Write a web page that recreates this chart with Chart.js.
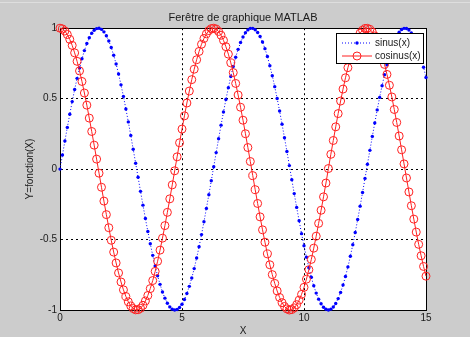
<!DOCTYPE html>
<html>
<head>
<meta charset="utf-8">
<script src="https://cdn.jsdelivr.net/npm/chart.js@4/dist/chart.umd.min.js"></script>
<style>
  html, body { margin: 0; padding: 0; background: #cccccc; }
  canvas { display: block; }
</style>
</head>
<body>
<canvas id="fig" width="470" height="337"></canvas>
<script>
const xs = [
  0, 0.1, 0.2, 0.3, 0.4, 0.5, 0.6, 0.7, 0.8, 0.9,
  1, 1.1, 1.2, 1.3, 1.4, 1.5, 1.6, 1.7, 1.8, 1.9,
  2, 2.1, 2.2, 2.3, 2.4, 2.5, 2.6, 2.7, 2.8, 2.9,
  3, 3.1, 3.2, 3.3, 3.4, 3.5, 3.6, 3.7, 3.8, 3.9,
  4, 4.1, 4.2, 4.3, 4.4, 4.5, 4.6, 4.7, 4.8, 4.9,
  5, 5.1, 5.2, 5.3, 5.4, 5.5, 5.6, 5.7, 5.8, 5.9,
  6, 6.1, 6.2, 6.3, 6.4, 6.5, 6.6, 6.7, 6.8, 6.9,
  7, 7.1, 7.2, 7.3, 7.4, 7.5, 7.6, 7.7, 7.8, 7.9,
  8, 8.1, 8.2, 8.3, 8.4, 8.5, 8.6, 8.7, 8.8, 8.9,
  9, 9.1, 9.2, 9.3, 9.4, 9.5, 9.6, 9.7, 9.8, 9.9,
  10, 10.1, 10.2, 10.3, 10.4, 10.5, 10.6, 10.7, 10.8, 10.9,
  11, 11.1, 11.2, 11.3, 11.4, 11.5, 11.6, 11.7, 11.8, 11.9,
  12, 12.1, 12.2, 12.3, 12.4, 12.5, 12.6, 12.7, 12.8, 12.9,
  13, 13.1, 13.2, 13.3, 13.4, 13.5, 13.6, 13.7, 13.8, 13.9,
  14, 14.1, 14.2, 14.3, 14.4, 14.5, 14.6, 14.7, 14.8, 14.9,
  15
];

const sinus = [
  0, 0.100, 0.199, 0.296, 0.389, 0.479, 0.565, 0.644, 0.717, 0.783,
  0.841, 0.891, 0.932, 0.964, 0.985, 0.997, 1.000, 0.992, 0.974, 0.946,
  0.909, 0.863, 0.808, 0.746, 0.675, 0.598, 0.516, 0.427, 0.335, 0.239,
  0.141, 0.042, -0.058, -0.158, -0.256, -0.351, -0.443, -0.530, -0.612, -0.688,
  -0.757, -0.818, -0.872, -0.916, -0.952, -0.978, -0.994, -1.000, -0.996, -0.982,
  -0.959, -0.926, -0.883, -0.832, -0.773, -0.706, -0.631, -0.551, -0.465, -0.374,
  -0.279, -0.182, -0.083, 0.017, 0.117, 0.215, 0.312, 0.405, 0.494, 0.578,
  0.657, 0.729, 0.794, 0.850, 0.899, 0.938, 0.968, 0.988, 0.999, 0.999,
  0.989, 0.970, 0.941, 0.902, 0.855, 0.799, 0.734, 0.663, 0.585, 0.501,
  0.412, 0.319, 0.223, 0.125, 0.025, -0.075, -0.174, -0.272, -0.367, -0.458,
  -0.544, -0.625, -0.700, -0.768, -0.828, -0.880, -0.923, -0.956, -0.981, -0.995,
  -1.000, -0.994, -0.979, -0.954, -0.919, -0.875, -0.823, -0.762, -0.694, -0.618,
  -0.537, -0.450, -0.358, -0.263, -0.166, -0.066, 0.034, 0.133, 0.232, 0.327,
  0.420, 0.509, 0.592, 0.670, 0.740, 0.804, 0.859, 0.906, 0.944, 0.972,
  0.991, 0.999, 0.998, 0.987, 0.966, 0.935, 0.895, 0.846, 0.788, 0.723,
  0.650
];

const cosinus = [
  1.000, 0.995, 0.980, 0.955, 0.921, 0.878, 0.825, 0.765, 0.697, 0.622,
  0.540, 0.454, 0.362, 0.267, 0.170, 0.071, -0.029, -0.129, -0.227, -0.323,
  -0.416, -0.505, -0.589, -0.666, -0.737, -0.801, -0.857, -0.904, -0.942, -0.971,
  -0.990, -0.999, -0.998, -0.988, -0.967, -0.936, -0.897, -0.848, -0.791, -0.726,
  -0.654, -0.575, -0.490, -0.401, -0.307, -0.211, -0.112, -0.012, 0.087, 0.187,
  0.284, 0.378, 0.469, 0.554, 0.635, 0.709, 0.776, 0.835, 0.886, 0.927,
  0.960, 0.983, 0.997, 1.000, 0.993, 0.977, 0.950, 0.914, 0.869, 0.816,
  0.754, 0.685, 0.608, 0.526, 0.439, 0.347, 0.251, 0.153, 0.054, -0.046,
  -0.146, -0.244, -0.339, -0.431, -0.519, -0.602, -0.679, -0.749, -0.811, -0.865,
  -0.911, -0.948, -0.975, -0.992, -1.000, -0.997, -0.985, -0.962, -0.930, -0.889,
  -0.839, -0.781, -0.714, -0.641, -0.561, -0.476, -0.385, -0.292, -0.197, -0.099,
  0.004, 0.105, 0.203, 0.300, 0.394, 0.483, 0.568, 0.648, 0.720, 0.786,
  0.844, 0.893, 0.934, 0.965, 0.986, 0.998, 0.999, 0.991, 0.973, 0.945,
  0.907, 0.861, 0.806, 0.743, 0.672, 0.595, 0.512, 0.423, 0.331, 0.235,
  0.137, 0.037, -0.063, -0.162, -0.260, -0.355, -0.447, -0.534, -0.615, -0.691,
  -0.760
];

const seriesNames = ['sinus(x)', 'cosinus(x)'];
const xTicks = [0, 5, 10, 15];
const yTicks = [-1, -0.5, 0, 0.5, 1];

const FONT = '"Liberation Sans", Arial, Helvetica, sans-serif';
Chart.defaults.font.family = FONT;
Chart.defaults.color = '#1a1a1a';

const toPoints = (ys) => xs.map((x, i) => ({ x: x, y: ys[i] }));

// white axes background + black box around it
const axesBox = {
    id: 'axesBox',
    beforeDraw: (chart) => {
        const a = chart.chartArea;
        const ctx = chart.ctx;
        ctx.save();
        ctx.fillStyle = '#ffffff';
        ctx.fillRect(a.left, a.top, a.right - a.left, a.bottom - a.top);
        // light window edge at the top
        ctx.fillStyle = '#dedede';
        ctx.fillRect(0, 2, chart.width, 1);
        ctx.restore();
    },
    beforeDatasetsDraw: (chart) => {
        const a = chart.chartArea;
        const ctx = chart.ctx;
        ctx.save();
        ctx.strokeStyle = '#000';
        ctx.lineWidth = 1;
        ctx.strokeRect(Math.round(a.left) + 0.5, Math.round(a.top) + 0.5,
            Math.round(a.right - a.left), Math.round(a.bottom - a.top));
        ctx.restore();
    }
};

// matlab style legend: line sample with marker in the middle
const matlabLegend = {
    id: 'matlabLegend',
    afterDraw: (chart) => {
        const ctx = chart.ctx;
        const bx = 336.5, by = 33.5, bw = 87, bh = 30;
        ctx.save();
        ctx.fillStyle = '#fff';
        ctx.fillRect(bx, by, bw, bh);
        ctx.strokeStyle = '#000';
        ctx.lineWidth = 1;
        ctx.strokeRect(bx, by, bw, bh);

        chart.data.datasets.forEach((ds, i) => {
            const y = by + 9.5 + i * 13;
            ctx.strokeStyle = ds.borderColor;
            ctx.setLineDash(ds.borderDash || []);
            ctx.beginPath();
            ctx.moveTo(342, y);
            ctx.lineTo(372, y);
            ctx.stroke();
            ctx.setLineDash([]);
            ctx.beginPath();
            ctx.arc(357, y, ds.pointRadius, 0, Math.PI * 2);
            if (ds.pointBorderWidth) {
                ctx.strokeStyle = ds.pointBorderColor;
                ctx.stroke();
            } else {
                ctx.fillStyle = ds.pointBackgroundColor;
                ctx.fill();
            }
            ctx.fillStyle = '#1a1a1a';
            ctx.font = '10px ' + FONT;
            ctx.textBaseline = 'middle';
            ctx.textAlign = 'left';
            ctx.fillText(ds.label, 375, y);
        });
        ctx.restore();
    }
};

new Chart(document.getElementById('fig'), {
    type: 'line',
    data: {
        datasets: [
            {
                label: seriesNames[0],
                data: toPoints(sinus),
                borderColor: '#0000ff',
                borderWidth: 1,
                borderDash: [1, 2],
                pointRadius: 1.7,
                pointBorderWidth: 0,
                pointBackgroundColor: '#0000ff',
                pointBorderColor: '#0000ff',
                clip: false,
                order: 1
            },
            {
                label: seriesNames[1],
                data: toPoints(cosinus),
                borderColor: '#ff2020',
                borderWidth: 1,
                pointRadius: 4,
                pointBorderWidth: 1,
                pointBackgroundColor: 'rgba(0,0,0,0)',
                pointBorderColor: '#ff2020',
                clip: false,
                order: 0
            }
        ]
    },
    options: {
        responsive: false,
        animation: false,
        layout: { padding: { top: 0, right: 44, bottom: 0, left: 0 } },
        plugins: {
            legend: { display: false },
            tooltip: { enabled: false },
            title: {
                display: true,
                text: 'Ferêtre de graphique MATLAB',
                fullSize: false,
                color: '#1a1a1a',
                font: { size: 11, weight: 'normal' },
                padding: { top: 11, bottom: 4 }
            }
        },
        scales: {
            x: {
                type: 'linear',
                min: 0,
                max: 15,
                afterBuildTicks: (s) => { s.ticks = xTicks.map(v => ({ value: v })); },
                afterFit: (s) => { s.height = 27; },
                ticks: { font: { size: 10 }, padding: 2, color: '#1a1a1a', callback: (v) => String(v) },
                grid: { color: '#000', drawTicks: false, lineWidth: 1 },
                border: { display: true, color: '#000', dash: [2, 3] },
                title: { display: true, text: 'X', font: { size: 10 }, padding: { top: 1, bottom: 0 }, color: '#1a1a1a' }
            },
            y: {
                type: 'linear',
                min: -1,
                max: 1,
                afterBuildTicks: (s) => { s.ticks = yTicks.map(v => ({ value: v })); },
                afterFit: (s) => { s.width = 60; },
                ticks: { font: { size: 10 }, padding: 3, color: '#1a1a1a', callback: (v) => String(v) },
                grid: { color: '#000', drawTicks: false, lineWidth: 1 },
                border: { display: true, color: '#000', dash: [2, 3] },
                title: { display: true, text: 'Y=fonction(X)', font: { size: 10 }, padding: { top: 24, bottom: 0 }, color: '#1a1a1a' }
            }
        }
    },
    plugins: [axesBox, matlabLegend]
});
</script>
</body>
</html>
